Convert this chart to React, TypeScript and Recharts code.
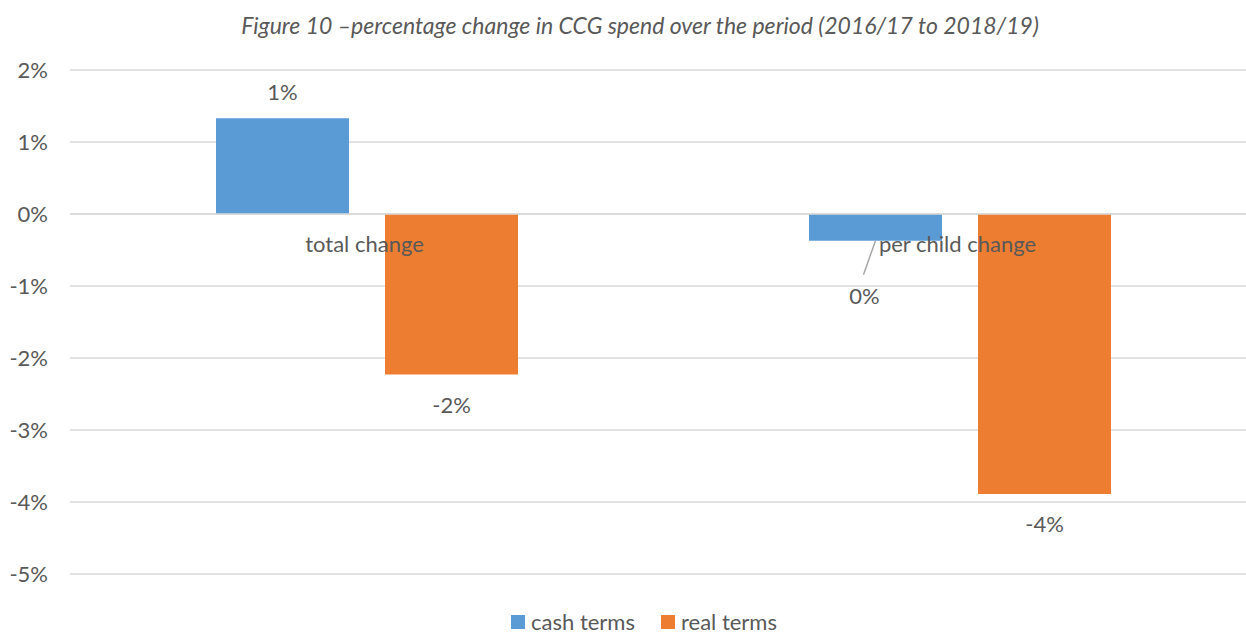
import { Bar, BarChart, CartesianGrid, LabelList, Legend, ReferenceLine, YAxis } from 'recharts'

const categories = ['total change', 'per child change']
const cashTerms = [1.33, -0.37]
const realTerms = [-2.23, -3.89]
const yTicks = [2, 1, 0, -1, -2, -3, -4, -5]

const TITLE = 'Figure 10 \u2013percentage change in CCG spend over the period (2016/17 to 2018/19)'
const CASH_COLOR = '#5B9BD5'
const REAL_COLOR = '#ED7D31'
const GRID_COLOR = '#D9D9D9'
const TEXT_COLOR = '#595959'
const FONT = 'Lato, "Noto Sans", sans-serif'
const FONT_SIZE = 22

const chartData = categories.map((name, i) => ({
  name,
  cash: cashTerms[i],
  real: realTerms[i],
}))

const pct = (v: number) => `${Math.round(v)}%`

type LabelProps = {
  x?: number
  y?: number
  width?: number
  height?: number
  value?: number
  index?: number
}

// Excel-style "outside end" labels; the small cash label was dragged aside with a leader line
function makeBarLabel(movedIndex: number | null) {
  return function BarLabel({ x = 0, y = 0, width = 0, height = 0, value = 0, index }: LabelProps) {
    const top = Math.min(y, y + height)
    const bottom = Math.max(y, y + height)
    const cx = x + width / 2
    if (index === movedIndex) {
      return (
        <g>
          <line x1={cx} y1={bottom} x2={cx - 12} y2={bottom + 34} stroke="#A6A6A6" strokeWidth={1.5} />
          <text x={cx - 11} y={bottom + 63} textAnchor="middle" fill={TEXT_COLOR} fontSize={FONT_SIZE} fontFamily={FONT}>
            {pct(value)}
          </text>
        </g>
      )
    }
    const ty = value >= 0 ? top - 18 : bottom + 38
    return (
      <text x={cx} y={ty} textAnchor="middle" fill={TEXT_COLOR} fontSize={FONT_SIZE} fontFamily={FONT}>
        {pct(value)}
      </text>
    )
  }
}

type RefViewBox = { viewBox?: { x: number; y: number; width: number } }

// category names sit just under the zero line, like Excel's "next to axis" labels
function CategoryLabels({ viewBox }: RefViewBox) {
  if (!viewBox) return null
  const band = viewBox.width / categories.length
  return (
    <g>
      {categories.map((c, i) => (
        <text
          key={c}
          x={viewBox.x + band * (i + 0.5) - 2}
          y={viewBox.y + 38}
          textAnchor="middle"
          fill={TEXT_COLOR}
          fontSize={FONT_SIZE}
          fontFamily={FONT}
        >
          {c}
        </text>
      ))}
    </g>
  )
}

function LegendContent() {
  const items = [
    { label: 'cash terms', color: CASH_COLOR },
    { label: 'real terms', color: REAL_COLOR },
  ]
  return (
    <div
      style={{
        height: 62,
        boxSizing: 'border-box',
        display: 'flex',
        alignItems: 'flex-end',
        justifyContent: 'center',
        gap: 26,
        paddingLeft: 32,
        paddingBottom: 4,
        fontFamily: FONT,
        fontSize: FONT_SIZE,
        color: TEXT_COLOR,
      }}
    >
      {items.map((it) => (
        <span key={it.label} style={{ display: 'flex', alignItems: 'center', gap: 6, lineHeight: '20px' }}>
          <span style={{ width: 14, height: 14, background: it.color, display: 'inline-block' }} />
          {it.label}
        </span>
      ))}
    </div>
  )
}

export default function App() {
  return (
    <div
      style={{
        position: 'fixed',
        left: 0,
        top: 0,
        width: 1246,
        height: 636,
        overflow: 'hidden',
        background: '#fff',
      }}
    >
      <div
        style={{
          position: 'absolute',
          left: 0,
          width: 1280,
          top: 9,
          textAlign: 'center',
          fontFamily: FONT,
          fontStyle: 'italic',
          fontSize: 23,
          color: TEXT_COLOR,
          lineHeight: '32px',
        }}
      >
        {TITLE}
      </div>
      <BarChart
        width={1256}
        height={636}
        data={chartData}
        margin={{ top: 70, right: 0, bottom: 0, left: 0 }}
        barSize={133}
        barGap={36}
      >
        <CartesianGrid vertical={false} stroke={GRID_COLOR} strokeWidth={1.5} />
        <YAxis
          width={70}
          domain={[-5, 2]}
          ticks={yTicks}
          interval={0}
          axisLine={false}
          tickLine={false}
          tickMargin={16}
          tickFormatter={(v: number) => `${v}%`}
          tick={{ fill: TEXT_COLOR, fontSize: FONT_SIZE, fontFamily: FONT }}
        />
        <Bar dataKey="cash" name="cash terms" fill={CASH_COLOR} isAnimationActive={false}>
          <LabelList dataKey="cash" content={makeBarLabel(1)} />
        </Bar>
        <Bar dataKey="real" name="real terms" fill={REAL_COLOR} isAnimationActive={false}>
          <LabelList dataKey="real" content={makeBarLabel(null)} />
        </Bar>
        <ReferenceLine y={0} stroke={GRID_COLOR} strokeWidth={1.5} label={<CategoryLabels />} />
        <Legend verticalAlign="bottom" height={62} content={<LegendContent />} />
      </BarChart>
    </div>
  )
}
